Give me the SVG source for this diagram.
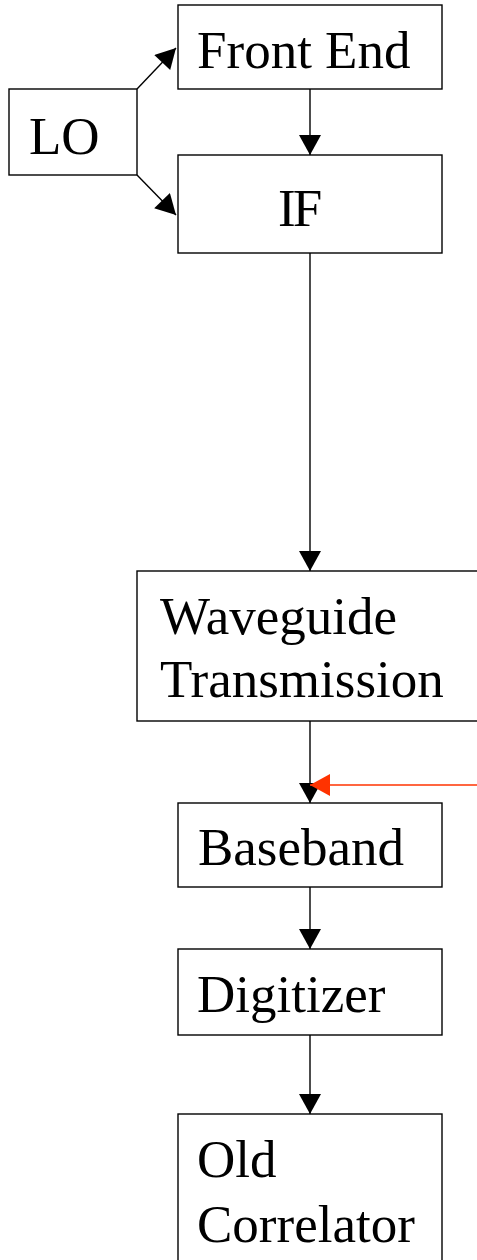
<svg xmlns="http://www.w3.org/2000/svg" width="477" height="1260" viewBox="0 0 477 1260">
<style>
.box{fill:#fff;stroke:#000;stroke-width:1.4}
.lbl{font-family:"Liberation Serif","Times New Roman",serif;font-size:53px;fill:#000}
.edge{fill:none;stroke:#000;stroke-width:1.4}
.red{fill:none;stroke:#ff3300;stroke-width:1.4}
</style>
<defs>
<marker id="ah" markerUnits="userSpaceOnUse" markerWidth="22" markerHeight="22" viewBox="0 0 20 22" refX="20" refY="11" orient="auto">
<path d="M0,0 L20,11 L0,22 Z" fill="#000"/>
</marker>
<marker id="ahr" markerUnits="userSpaceOnUse" markerWidth="22" markerHeight="22" viewBox="0 0 20 22" refX="20" refY="11" orient="auto">
<path d="M0,0 L20,11 L0,22 Z" fill="#ff3300"/>
</marker>
</defs>
<rect width="477" height="1260" fill="#fff"/>
<g id="connectors">
<line class="edge" x1="137" y1="89" x2="176" y2="48" marker-end="url(#ah)"/>
<line class="edge" x1="137" y1="175" x2="176" y2="215" marker-end="url(#ah)"/>
<line class="edge" x1="310" y1="89" x2="310" y2="155" marker-end="url(#ah)"/>
<line class="edge" x1="310" y1="253" x2="310" y2="571" marker-end="url(#ah)"/>
<line class="edge" x1="310" y1="721" x2="310" y2="803" marker-end="url(#ah)"/>
<line class="red" x1="477" y1="785" x2="310" y2="785" marker-end="url(#ahr)"/>
<line class="edge" x1="310" y1="887" x2="310" y2="949" marker-end="url(#ah)"/>
<line class="edge" x1="310" y1="1035" x2="310" y2="1114" marker-end="url(#ah)"/>
</g>
<g id="lo">
<rect class="box" x="9" y="89" width="128" height="86"/>
<text class="lbl" x="29" y="154">LO</text>
</g>
<g id="frontend">
<rect class="box" x="178" y="5" width="264" height="84"/>
<text class="lbl" x="197" y="68">Front End</text>
</g>
<g id="if">
<rect class="box" x="178" y="155" width="264" height="98"/>
<text class="lbl" x="278" y="226" letter-spacing="-3">IF</text>
</g>
<g id="waveguide">
<rect class="box" x="137" y="571" width="345" height="150"/>
<text class="lbl" x="160" y="634">Waveguide</text>
<text class="lbl" x="160" y="697">Transmission</text>
</g>
<g id="baseband">
<rect class="box" x="178" y="803" width="264" height="84"/>
<text class="lbl" x="198" y="865">Baseband</text>
</g>
<g id="digitizer">
<rect class="box" x="178" y="949" width="264" height="86"/>
<text class="lbl" x="197" y="1012">Digitizer</text>
</g>
<g id="oldcorrelator">
<rect class="box" x="178" y="1114" width="264" height="160"/>
<text class="lbl" x="197" y="1177">Old</text>
<text class="lbl" x="197" y="1242">Correlator</text>
</g>
</svg>
